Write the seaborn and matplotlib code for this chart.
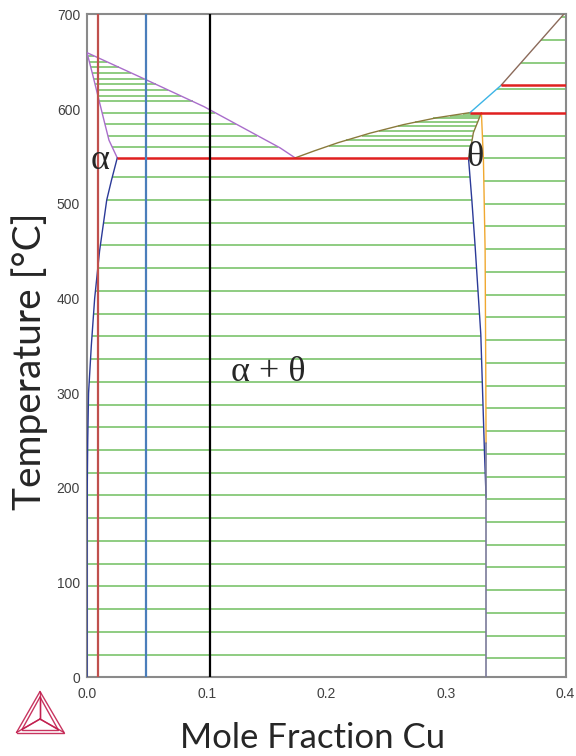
import numpy as np
import pandas as pd
import matplotlib
matplotlib.use("Agg")
import matplotlib.pyplot as plt
import seaborn as sns

# ---- phase boundaries (mole fraction Cu, temperature in degC) ----
liq_al_x = [0.0, 0.0492, 0.0978, 0.1614, 0.174]
liq_al_T = [659.5, 631.0, 602.5, 559.0, 548.4]

sol_al_x = [0.0, 0.0044, 0.0089, 0.0148, 0.0184, 0.0253]
sol_al_T = [659.5, 638.0, 615.0, 585.0, 567.0, 548.4]

solvus_x = [0.0253, 0.0205, 0.0165, 0.0105, 0.0064, 0.0036, 0.0013, 0.0006, 0.0002, 0.0, 0.0]
solvus_T = [548.4, 525.0, 504.0, 450.0, 400.0, 350.0, 300.0, 250.0, 200.0, 150.0, 0.0]

liq_th_x = [0.174, 0.190, 0.210, 0.2366, 0.2645, 0.2924, 0.3202]
liq_th_T = [548.4, 555.8, 564.5, 574.5, 583.5, 590.8, 596.2]

th_left_hi_x = [0.3297, 0.3230, 0.3205, 0.3189]
th_left_hi_T = [596.0, 575.0, 557.0, 548.4]

th_left_x = [0.3189, 0.3217, 0.3244, 0.3292, 0.3322, 0.3336]
th_left_T = [548.4, 504.0, 456.0, 362.0, 240.0, 190.0]

th_right_x = [0.3297, 0.3314, 0.3328, 0.3334, 0.3336]
th_right_T = [596.0, 546.0, 451.0, 311.0, 247.0]

th_line_x = [0.3336, 0.3336]
th_line_T = [0.0, 247.0]

liq_cyan_x = [0.3202, 0.3462]
liq_cyan_T = [596.2, 625.1]
liq_brown_x = [0.3462, 0.3985]
liq_brown_T = [625.1, 700.0]

# invariant (three-phase) temperatures
eutectic_T = 548.4
inv1_T = 596.2
inv2_T = 625.1

# tie-line temperatures
tie_la_T = [656, 650, 644, 638, 632, 626, 620, 614, 608, 596, 584, 572, 560]
tie_lth_T = [595, 593, 590, 586, 582, 577, 572, 567, 561]
tie_ath_T = list(range(24, 529, 24))
tie_right_T = list(range(20, 573, 24))
tie_top_T = [621, 649, 673, 697]

# alloy compositions
alloy_x = [0.0089, 0.0493, 0.1028]
alloy_colors = ["#c0504d", "#4a7ebb", "#000000"]

x_ticks = [0.0, 0.1, 0.2, 0.3, 0.4]
y_ticks = [0, 100, 200, 300, 400, 500, 600, 700]

sns.set_theme(style="white")
plt.rcParams["font.family"] = ["Liberation Sans", "DejaVu Sans"]

W, H = 576, 756
fig = plt.figure(figsize=(W / 100, H / 100), dpi=100)
ax = fig.add_axes([87 / W, 1 - 677.3 / H, (565.5 - 87) / W, (677.3 - 14.3) / H])
ax.set_xlim(0, 0.4)
ax.set_ylim(0, 700)

green = "#7cc46c"


def interp_T(T, xs, Ts):
    Ts = np.asarray(Ts, float)
    xs = np.asarray(xs, float)
    order = np.argsort(Ts)
    return np.interp(T, Ts[order], xs[order])


# tie lines
for T in tie_la_T:
    ax.hlines(T, interp_T(T, sol_al_x, sol_al_T), interp_T(T, liq_al_x, liq_al_T),
              color=green, lw=1.2, zorder=1)
for T in tie_lth_T:
    ax.hlines(T, interp_T(T, liq_th_x, liq_th_T), interp_T(T, th_left_hi_x, th_left_hi_T),
              color=green, lw=1.2, zorder=1)
for T in tie_ath_T:
    ax.hlines(T, interp_T(T, solvus_x, solvus_T), interp_T(T, th_left_x, th_left_T),
              color=green, lw=1.2, zorder=1)
for T in tie_right_T:
    xl = interp_T(T, th_right_x, th_right_T) if T >= 247 else th_line_x[0]
    ax.hlines(T, xl, 0.4, color=green, lw=1.2, zorder=1)
top_liq_x = liq_cyan_x + liq_brown_x[1:]
top_liq_T = liq_cyan_T + liq_brown_T[1:]
for T in tie_top_T:
    ax.hlines(T, interp_T(T, top_liq_x, top_liq_T), 0.4, color=green, lw=1.2, zorder=1)


def curve(xs, Ts, color, lw=1.0, z=3):
    df = pd.DataFrame({"x": xs, "T": Ts})
    sns.lineplot(data=df, x="x", y="T", sort=False, estimator=None,
                 color=color, lw=lw, ax=ax, zorder=z)


# invariant lines
ax.hlines(eutectic_T, sol_al_x[-1], th_left_x[0], color="#e02020", lw=1.8, zorder=4)
ax.hlines(inv1_T, liq_th_x[-1], 0.4, color="#e02020", lw=1.8, zorder=4)
ax.hlines(inv2_T, liq_cyan_x[-1], 0.4, color="#e02020", lw=1.8, zorder=4)

# phase boundaries
curve(liq_al_x, liq_al_T, "#a96dcb", 1.0)
curve(sol_al_x, sol_al_T, "#a96dcb", 1.0)
curve(solvus_x, solvus_T, "#2b3a98", 1.0)
curve(liq_th_x, liq_th_T, "#8a7a3c", 1.0)
curve(th_left_hi_x, th_left_hi_T, "#8a7a3c", 1.0)
curve(th_left_x, th_left_T, "#2b3a98", 1.0)
curve(th_right_x, th_right_T, "#f0a830", 1.0)
curve(th_line_x, th_line_T, "#7a7a9a", 1.2)
curve(liq_cyan_x, liq_cyan_T, "#3cb4e6", 1.0)
curve(liq_brown_x, liq_brown_T, "#8b6a5a", 1.0)

# alloy composition lines
for xa, ca in zip(alloy_x, alloy_colors):
    ax.axvline(xa, color=ca, lw=1.6, zorder=5)

# phase labels
serif = ["Liberation Serif", "DejaVu Serif"]
ax.text(0.011, 546, "α", family=serif, fontsize=26, ha="center", va="center", zorder=6)
ax.text(0.3245, 549, "θ", family=serif, fontsize=26, ha="center", va="center", zorder=6)
ax.text(0.1515, 322, "α + θ", family=serif, fontsize=26, ha="center", va="center", zorder=6)

# axes styling
ax.set_xticks(x_ticks)
ax.set_xticklabels([f"{v:.1f}" for v in x_ticks])
ax.set_yticks(y_ticks)
ax.set_yticklabels([str(v) for v in y_ticks])
ax.tick_params(axis="both", which="major", direction="out", length=3, width=1,
               color="#707070", labelsize=10, labelcolor="#404040", pad=2)
ax.tick_params(axis="x", pad=4)
for sp in ax.spines.values():
    sp.set_color("#8a8a8a")
    sp.set_linewidth(1.5)
ax.set_xlabel("")
ax.set_ylabel("")

label_font = ["Lato", "DejaVu Sans"]
fig.text(30 / W, 1 - 361 / H, "Temperature [°C]", rotation=90, family=label_font,
         fontsize=28, ha="center", va="center")
fig.text(313 / W, 1 - 738 / H, "Mole Fraction Cu", family=label_font,
         fontsize=25, ha="center", va="center")

# logo
lg = fig.add_axes([0, 0, 1, 1], facecolor="none")
lg.set_xlim(0, W)
lg.set_ylim(H, 0)
lg.axis("off")
crim = "#c21e4e"
A, BL, BR, C = (40, 691.5), (16.5, 732.5), (64, 732.5), (40, 719)
A2, BL2, BR2 = (40, 697), (22, 729.5), (58, 729.5)
for p, q in [(A, BL), (BL, BR), (BR, A), (A, C), (C, BL), (C, BR),
             (A2, BL2), (BL2, BR2), (BR2, A2), (A2, C), (C, BL2), (C, BR2)]:
    lg.plot([p[0], q[0]], [p[1], q[1]], color=crim, lw=1.0, alpha=0.9)

fig.savefig("out.png", dpi=100)
